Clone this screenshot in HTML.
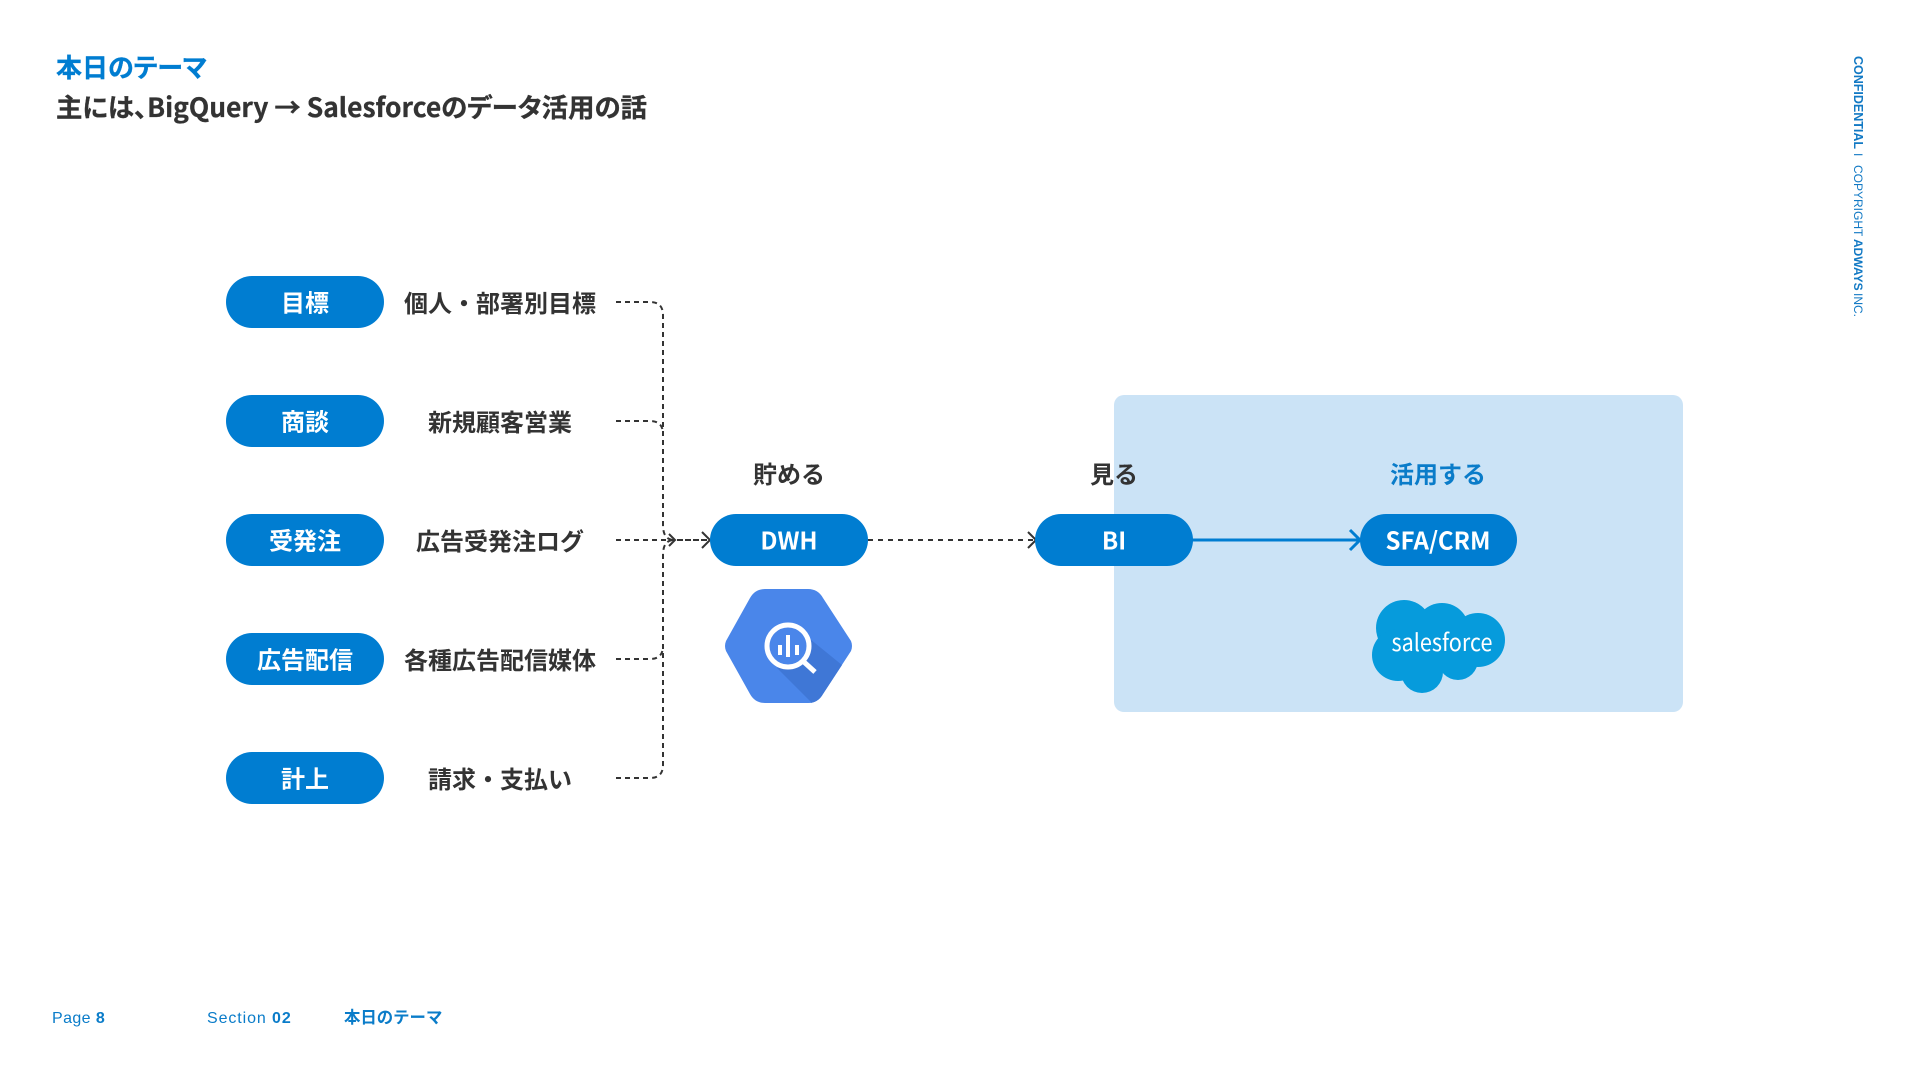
<!DOCTYPE html>
<html lang="ja"><head><meta charset="utf-8"><title>本日のテーマ</title>
<style>
html,body{margin:0;padding:0;background:#fff;width:1920px;height:1080px;overflow:hidden}
svg{display:block}
text{font-family:"Noto Sans CJK JP","Liberation Sans",sans-serif;font-weight:700}
.w{fill:#fff;font-size:24px;text-anchor:middle}
.d{fill:#333;font-size:24px;text-anchor:middle}
.p{font-feature-settings:"palt"}
.f{font-family:"Liberation Sans","Noto Sans CJK JP",sans-serif;font-size:16px;fill:#0a7cc9;font-weight:400}
</style></head><body>
<svg width="1920" height="1080" viewBox="0 0 1920 1080" xmlns="http://www.w3.org/2000/svg">
<rect width="1920" height="1080" fill="#fff"/>
<text class="p" x="56" y="77" font-size="26" fill="#007dd1" stroke="#007dd1" stroke-width=".3">本日のテーマ</text>
<text class="p" x="56" y="117" font-size="26.400" fill="#333" stroke="#333" stroke-width=".3">主には、BigQuery → Salesforceのデータ活用の話</text>

<rect x="1114" y="395" width="569" height="317" rx="10" fill="#cbe3f6"/>

<g fill="none" stroke="#333" stroke-width="2" stroke-dasharray="5 4">
<path d="M616 302H650Q663 302 663 315V525Q663 540 674 540"/>
<path d="M616 421H650Q663 421 663 434"/>
<path d="M616 540H675"/>
<path d="M616 659H650Q663 659 663 646"/>
<path d="M616 778H650Q663 778 663 765V555Q663 540 674 540"/>
</g>
<path d="M868 540H1036" fill="none" stroke="#333" stroke-width="2" stroke-dasharray="5 5"/>
<path d="M677 540H708" fill="none" stroke="#333" stroke-width="2" stroke-dasharray="6 2"/>
<g fill="none" stroke="#333" stroke-width="2">
<path d="M669 534L675 540L669 546"/>
<path d="M702 532L710 540L702 548"/>
<path d="M1028 532L1036 540L1028 548"/>
</g>
<path d="M1192 540H1360" stroke="#007dd1" stroke-width="3" fill="none"/>
<path d="M1350 530L1360 540L1350 550" stroke="#007dd1" stroke-width="3" fill="none"/>

<g fill="#007dd1">
<rect x="226" y="276" width="158" height="52" rx="26"/>
<rect x="226" y="395" width="158" height="52" rx="26"/>
<rect x="226" y="514" width="158" height="52" rx="26"/>
<rect x="226" y="633" width="158" height="52" rx="26"/>
<rect x="226" y="752" width="158" height="52" rx="26"/>
<rect x="710" y="514" width="158" height="52" rx="26"/>
<rect x="1035" y="514" width="158" height="52" rx="26"/>
<rect x="1360" y="514" width="157" height="52" rx="26"/>
</g>
<text class="w" x="305" y="311.500">目標</text>
<text class="w" x="305" y="430.500">商談</text>
<text class="w" x="305" y="549.500">受発注</text>
<text class="w" x="305" y="668.500">広告配信</text>
<text class="w" x="305" y="787.500">計上</text>
<text class="w" x="789" y="549.500">DWH</text>
<text class="w" x="1114" y="549.500">BI</text>
<text class="w" x="1438" y="549.500">SFA/CRM</text>

<text class="d" x="500" y="312">個人・部署別目標</text>
<text class="d" x="500" y="431">新規顧客営業</text>
<text class="d" x="500" y="550">広告受発注ログ</text>
<text class="d" x="500" y="669">各種広告配信媒体</text>
<text class="d" x="500" y="788">請求・支払い</text>

<text class="d" x="789" y="483">貯める</text>
<text class="d" x="1114" y="483">見る</text>
<text class="d" x="1438" y="483" style="fill:#0a7cc9">活用する</text>

<path d="M726 641L750 598Q755 589 765 589H808Q818 589 823 598L851 641Q853 646 851 651L823 694Q818 703 808 703H765Q755 703 750 694L726 651Q724 646 726 641Z" fill="#4a86ea"/>
<path d="M805 635L842 665L823 694Q818 703 808 703H812L777 668Z" fill="#3f77d6"/>
<circle cx="788" cy="646" r="21" fill="#4a86ea" stroke="#fff" stroke-width="5"/>
<path d="M804 662L815 672" stroke="#fff" stroke-width="5" fill="none"/>
<g fill="#fff"><rect x="786" y="635" width="4" height="22"/><rect x="778" y="645" width="4" height="10"/><rect x="795" y="645" width="4" height="10"/></g>

<g fill="#069bdc">
<circle cx="1404" cy="628" r="28"/>
<circle cx="1442" cy="630" r="27"/>
<circle cx="1478" cy="640" r="27"/>
<circle cx="1398" cy="655" r="26"/>
<circle cx="1422" cy="672" r="21"/>
<circle cx="1458" cy="660" r="20"/>
<rect x="1395" y="625" width="80" height="40"/>
</g>
<text x="1442" y="651" font-size="24" fill="#fff" text-anchor="middle" textLength="101" lengthAdjust="spacingAndGlyphs" style="font-family:'Noto Sans CJK JP',sans-serif;font-weight:400">salesforce</text>

<text class="f" x="52" y="1023" letter-spacing=".4">Page <tspan font-weight="700">8</tspan></text>
<text class="f" x="207" y="1023" letter-spacing=".9">Section <tspan font-weight="700">02</tspan></text>
<text class="f" x="344" y="1023" style="font-family:'Noto Sans CJK JP',sans-serif;font-weight:700;fill:#0a7cc9;font-size:16.400px">本日のテーマ</text>

<g transform="translate(1854 56) rotate(90)" style="font-size:12px;fill:#1279c4">
<text x="0" y="0" style="font-family:'Liberation Sans',sans-serif;font-weight:700;font-size:12.500px">CONFIDENTIAL</text>
<text x="97" y="0" style="font-family:'Liberation Sans',sans-serif;font-weight:400">I</text>
<text x="109" y="0" style="font-family:'Liberation Sans',sans-serif;font-weight:400;font-size:12px">COPYRIGHT</text>
<text x="183" y="0" style="font-family:'Liberation Sans',sans-serif;font-weight:700">ADWAYS</text>
<text x="237" y="0" style="font-family:'Liberation Sans',sans-serif;font-weight:400">INC.</text>
</g>
</svg>
</body></html>
